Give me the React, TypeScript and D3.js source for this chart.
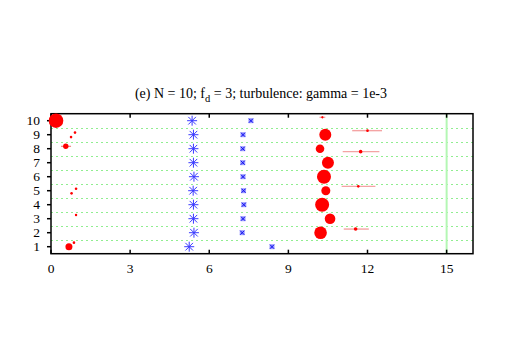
import React, { useEffect, useRef } from "react";
import * as d3 from "d3";

// rows 1..10
const rows = [1, 2, 3, 4, 5, 6, 7, 8, 9, 10];
const xTicks = [0, 3, 6, 9, 12, 15];
const refLine = 15;

// blue asterisks, one per row
const starX = [5.24, 5.42, 5.4, 5.4, 5.39, 5.42, 5.4, 5.4, 5.4, 5.35];
// blue boxed crosses, one per row
const boxX = [8.38, 7.25, 7.28, 7.31, 7.3, 7.28, 7.27, 7.27, 7.28, 7.58];

// red circles near 0 (mag = marker size)
const leftX = [0.19, 0.91, 0.76, 0.56, 0.95, 0.78, 0.95, 0.68, 0.87];
const leftY = [10, 9.15, 8.83, 8.17, 5.14, 4.81, 3.26, 1, 1.29];
const leftMag = [7.3, 1.3, 1.3, 2.7, 1.3, 1.3, 1.2, 3.5, 1.3];
const leftLo = [null, null, null, 0.38, null, null, null, null, null];
const leftHi = [null, null, null, 0.76, null, null, null, null, null];

// red circles near 10
const midX = [10.29, 10.4, 10.2, 10.5, 10.35, 10.42, 10.28, 10.58, 10.22];
const midY = [10.24, 9, 8, 7, 6, 5, 4, 3, 2];
const midMag = [1.1, 6, 4.3, 6, 7, 4.5, 7, 5.3, 6.3];

// red points with horizontal error bars
const errX = [10.29, 12.0, 11.74, 11.65, 11.55];
const errY = [10.24, 9.29, 7.79, 5.31, 2.26];
const errLo = [10.18, 11.42, 11.06, 11.02, 11.1];
const errHi = [10.4, 12.55, 12.45, 12.3, 12.05];
const errMag = [0.8, 1.3, 1.8, 1.3, 1.8];

const W = 506;
const H = 354;
const font = "Liberation Serif, Times New Roman, serif";

function Chart() {
  const ref = useRef<SVGSVGElement>(null);

  useEffect(() => {
    const svg = d3.select(ref.current);
    svg.selectAll("*").remove();

    const x = d3.scaleLinear().domain([0, 16]).range([51, 473]);
    const y = d3.scaleLinear().domain([0.5, 10.5]).range([253.7, 113.7]);
    const r = d3.scaleLinear().domain([0, 10]).range([0, 10]);

    // title
    const title = svg
      .append("text")
      .attr("x", 261)
      .attr("y", 98)
      .attr("text-anchor", "middle")
      .style("font-family", font)
      .style("font-size", "14px");
    title.append("tspan").text("(e) N = 10; f");
    title.append("tspan").style("font-size", "10.5px").attr("dy", 3.5).text("d");
    title.append("tspan").attr("dy", -3.5).text(" = 3; turbulence: gamma = 1e-3");

    // grid lines between rows
    const grid = d3.range(1.5, 10, 1);
    svg
      .append("g")
      .attr("shape-rendering", "crispEdges")
      .selectAll("line")
      .data(grid)
      .join("line")
      .attr("x1", x(0))
      .attr("x2", x(16))
      .attr("y1", (d) => Math.round(y(d)) + 0.5)
      .attr("y2", (d) => Math.round(y(d)) + 0.5)
      .attr("stroke", "#90ee90")
      .attr("stroke-width", 1)
      .attr("stroke-dasharray", "2,3");

    svg
      .append("line")
      .attr("x1", x(refLine))
      .attr("x2", x(refLine))
      .attr("y1", y(10.5))
      .attr("y2", y(0.5))
      .attr("stroke", "#b4f7b4")
      .attr("stroke-width", 2);

    // ticks
    const tk = svg.append("g").attr("stroke", "#000").attr("stroke-width", 1.5);
    xTicks.forEach((t) => {
      tk.append("line").attr("x1", x(t)).attr("x2", x(t)).attr("y1", y(0.5)).attr("y2", y(0.5) - 4);
      tk.append("line").attr("x1", x(t)).attr("x2", x(t)).attr("y1", y(10.5)).attr("y2", y(10.5) + 4);
    });
    rows.forEach((t) => {
      tk.append("line").attr("x1", x(0) - 4).attr("x2", x(0)).attr("y1", y(t)).attr("y2", y(t));
    });

    svg
      .append("g")
      .selectAll("text")
      .data(xTicks)
      .join("text")
      .attr("x", (d) => x(d))
      .attr("y", 273)
      .attr("text-anchor", "middle")
      .style("font-family", font)
      .style("font-size", "13.5px")
      .text((d) => d);

    svg
      .append("g")
      .selectAll("text")
      .data(rows)
      .join("text")
      .attr("x", 40)
      .attr("y", (d) => y(d) + 4.5)
      .attr("text-anchor", "end")
      .style("font-family", font)
      .style("font-size", "13.5px")
      .text((d) => d);

    // error bars
    const bars = svg.append("g");
    leftX.forEach((_, i) => {
      if (leftLo[i] == null) return;
      bars
        .append("line")
        .attr("x1", x(leftLo[i] as number))
        .attr("x2", x(leftHi[i] as number))
        .attr("y1", y(leftY[i]))
        .attr("y2", y(leftY[i]))
        .attr("stroke", "#f08080")
        .attr("stroke-width", 1.2);
    });
    errX.forEach((_, i) => {
      bars
        .append("line")
        .attr("x1", x(errLo[i]))
        .attr("x2", x(errHi[i]))
        .attr("y1", y(errY[i]))
        .attr("y2", y(errY[i]))
        .attr("stroke", "#f4a4a4")
        .attr("stroke-width", 1.4);
    });

    // red circles
    const red = svg.append("g").attr("fill", "#ff0000");
    leftX.forEach((v, i) => {
      red.append("circle").attr("cx", x(v)).attr("cy", y(leftY[i])).attr("r", r(leftMag[i]));
    });
    midX.forEach((v, i) => {
      red.append("circle").attr("cx", x(v)).attr("cy", y(midY[i])).attr("r", r(midMag[i]));
    });
    errX.forEach((v, i) => {
      red.append("circle").attr("cx", x(v)).attr("cy", y(errY[i])).attr("r", r(errMag[i]));
    });

    // blue asterisks
    const stars = svg.append("g").attr("stroke", "#3a3aff").attr("stroke-width", 1);
    starX.forEach((v, i) => {
      const cx = x(v);
      const cy = y(rows[i]);
      const s = 5;
      const d = 3.8;
      stars
        .append("path")
        .attr(
          "d",
          `M${cx - s},${cy}H${cx + s}M${cx},${cy - s}V${cy + s}` +
            `M${cx - d},${cy - d}L${cx + d},${cy + d}M${cx - d},${cy + d}L${cx + d},${cy - d}`
        );
    });

    // blue boxed crosses
    const boxes = svg.append("g");
    boxX.forEach((v, i) => {
      const cx = x(v);
      const cy = y(rows[i]);
      boxes
        .append("rect")
        .attr("x", cx - 2.5)
        .attr("y", cy - 2.5)
        .attr("width", 5)
        .attr("height", 5)
        .attr("fill", "#9a9aff");
      boxes
        .append("path")
        .attr("d", `M${cx - 2},${cy - 2}L${cx + 2},${cy + 2}M${cx - 2},${cy + 2}L${cx + 2},${cy - 2}`)
        .attr("stroke", "#1010ee")
        .attr("stroke-width", 1);
    });

    // frame
    svg
      .append("rect")
      .attr("x", x(0))
      .attr("y", y(10.5))
      .attr("width", x(16) - x(0))
      .attr("height", y(0.5) - y(10.5))
      .attr("fill", "none")
      .attr("stroke", "#000")
      .attr("stroke-width", 1.5);

    // big circle sits over the frame
    red.raise();
  }, []);

  return (
    <svg
      ref={ref}
      width={W}
      height={H}
      style={{ position: "absolute", left: 0, top: 0, background: "#fff" }}
    />
  );
}

export default function App() {
  return <Chart />;
}
